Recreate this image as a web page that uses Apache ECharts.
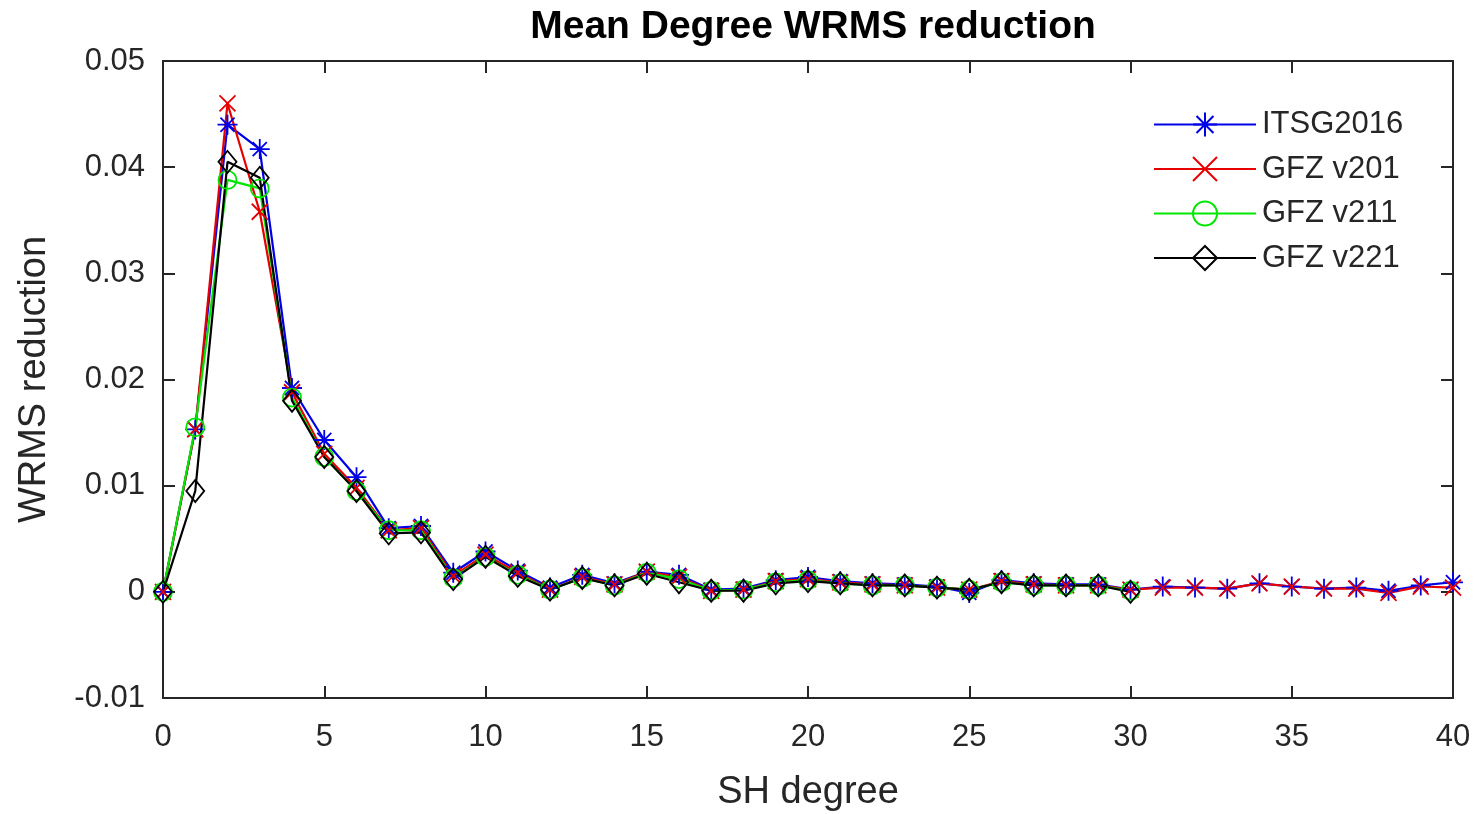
<!DOCTYPE html>
<html>
<head>
<meta charset="utf-8">
<script src="https://cdn.jsdelivr.net/npm/echarts@6/dist/echarts.min.js"></script>
<style>
html,body{margin:0;padding:0;background:#fff;}
#chart{width:1481px;height:814px;}
</style>
</head>
<body>
<div id="chart"></div>
<script>
const degrees = Array.from({length: 41}, (_, i) => i);
const degrees30 = degrees.slice(0, 31);

const itsg2016 = [0, 0.0153, 0.0440, 0.0417, 0.0192, 0.0143, 0.0108, 0.0060, 0.0062, 0.0018,
  0.0038, 0.0020, 0.0004, 0.0016, 0.0008, 0.0019, 0.0016, 0.0002, 0.0003, 0.0011,
  0.0014, 0.0010, 0.0008, 0.0007, 0.0005, -0.0001, 0.0011, 0.0008, 0.0007, 0.0007,
  0.0002, 0.0005, 0.0004, 0.0003, 0.0008, 0.0005, 0.0003, 0.0004, 0.0001, 0.0006, 0.0009];
const gfz201 = [0, 0.0153, 0.0460, 0.0358, 0.0188, 0.0130, 0.0098, 0.0058, 0.0060, 0.0015,
  0.0035, 0.0018, 0.0002, 0.0014, 0.0007, 0.0019, 0.0014, 0.0001, 0.0002, 0.0010,
  0.0012, 0.0009, 0.0007, 0.0006, 0.0004, 0.0002, 0.0010, 0.0007, 0.0006, 0.0006,
  0.0002, 0.0004, 0.0004, 0.0003, 0.0008, 0.0005, 0.0003, 0.0003, -0.0001, 0.0005, 0.0004];
const gfz211 = [0, 0.0155, 0.0388, 0.0380, 0.0183, 0.0127, 0.0095, 0.0058, 0.0058, 0.0013,
  0.0033, 0.0016, 0.0002, 0.0013, 0.0006, 0.0018, 0.0012, 0.0001, 0.0002, 0.0009,
  0.0011, 0.0008, 0.0006, 0.0006, 0.0004, 0.0002, 0.0009, 0.0006, 0.0006, 0.0006, 0.0001];
const gfz221 = [0, 0.0095, 0.0405, 0.0390, 0.0180, 0.0127, 0.0095, 0.0055, 0.0056, 0.0012,
  0.0033, 0.0015, 0.0002, 0.0013, 0.0006, 0.0017, 0.0009, 0.0001, 0.0001, 0.0008,
  0.0010, 0.0008, 0.0006, 0.0006, 0.0004, 0.0002, 0.0009, 0.0006, 0.0006, 0.0006, 0.0000];

const seriesNames = ['ITSG2016', 'GFZ v201', 'GFZ v211', 'GFZ v221'];
const seriesColors = ['#0000e6', '#e60000', '#00e600', '#000000'];

const FONT = '"Liberation Sans", Arial, Helvetica, sans-serif';
const TXT = '#262626';

const SYM_STAR = 'path://M0,-10L0,10M-10,0L10,0M-7.07,-7.07L7.07,7.07M-7.07,7.07L7.07,-7.07';
const SYM_X = 'path://M-10,-10L10,10M-10,10L10,-10';
const SYM_DIAMOND = 'path://M0,-10L10,0L0,10L-10,0Z';

function pairs(xs, ys) { return ys.map((v, i) => [xs[i], v]); }

function mk(name, data, color, symbol, size) {
  return {
    name: name, type: 'line', data: data,
    xAxisIndex: 0, yAxisIndex: 0,
    symbol: symbol, symbolSize: size,
    showAllSymbol: true,
    lineStyle: {color: color, width: 2.2},
    itemStyle: {color: 'rgba(0,0,0,0)', borderColor: color, borderWidth: 1.8},
    emphasis: {disabled: true},
    animation: false, z: 3
  };
}

const axisLine = {show: true, onZero: false, lineStyle: {color: TXT, width: 2}};
const tickIn = {show: true, inside: true, length: 12, lineStyle: {color: TXT, width: 2}};

const chart = echarts.init(document.getElementById('chart'), null, {renderer: 'canvas'});
chart.setOption({
  backgroundColor: '#fff',
  animation: false,
  title: {
    text: 'Mean Degree WRMS reduction',
    left: 808, top: 3, textAlign: 'center',
    textStyle: {fontFamily: FONT, fontWeight: 'bold', fontSize: 39, color: '#000'}
  },
  grid: {left: 163, right: 28, top: 61, bottom: 116, containLabel: false, outerBoundsMode: 'none'},
  legend: {
    data: seriesNames,
    orient: 'vertical',
    left: 1148, top: 104,
    itemWidth: 102, itemHeight: 30, itemGap: 13.5,
    textStyle: {fontFamily: FONT, fontSize: 31, color: TXT, lineHeight: 30, padding: [0, 0, 0, 1]},
    selectedMode: false
  },
  xAxis: [{
    type: 'value', min: 0, max: 40, interval: 5, position: 'bottom',
    name: 'SH degree', nameLocation: 'middle', nameGap: 76,
    nameTextStyle: {fontFamily: FONT, fontSize: 38, color: TXT},
    axisLine: axisLine, axisTick: tickIn,
    axisLabel: {fontFamily: FONT, fontSize: 31, color: TXT, margin: 24},
    splitLine: {show: false}
  }, {
    type: 'value', min: 0, max: 40, interval: 5, position: 'top',
    axisLine: axisLine, axisTick: tickIn, axisLabel: {show: false}, splitLine: {show: false}
  }],
  yAxis: [{
    type: 'value', min: -0.01, max: 0.05, interval: 0.01, position: 'left',
    name: 'WRMS reduction', nameLocation: 'middle', nameGap: 109,
    nameTextStyle: {fontFamily: FONT, fontSize: 38, color: TXT},
    axisLine: axisLine, axisTick: tickIn,
    axisLabel: {fontFamily: FONT, fontSize: 31, color: TXT, margin: 18,
      formatter: v => String(parseFloat(v.toFixed(2)))},
    splitLine: {show: false}
  }, {
    type: 'value', min: -0.01, max: 0.05, interval: 0.01, position: 'right',
    axisLine: axisLine, axisTick: tickIn, axisLabel: {show: false}, splitLine: {show: false}
  }],
  series: [
    mk(seriesNames[0], pairs(degrees, itsg2016), seriesColors[0], SYM_STAR, 20),
    mk(seriesNames[1], pairs(degrees, gfz201), seriesColors[1], SYM_X, 16),
    mk(seriesNames[2], pairs(degrees30, gfz211), seriesColors[2], 'circle', 18),
    mk(seriesNames[3], pairs(degrees30, gfz221), seriesColors[3], SYM_DIAMOND, [18, 22])
  ]
});
</script>
</body>
</html>
